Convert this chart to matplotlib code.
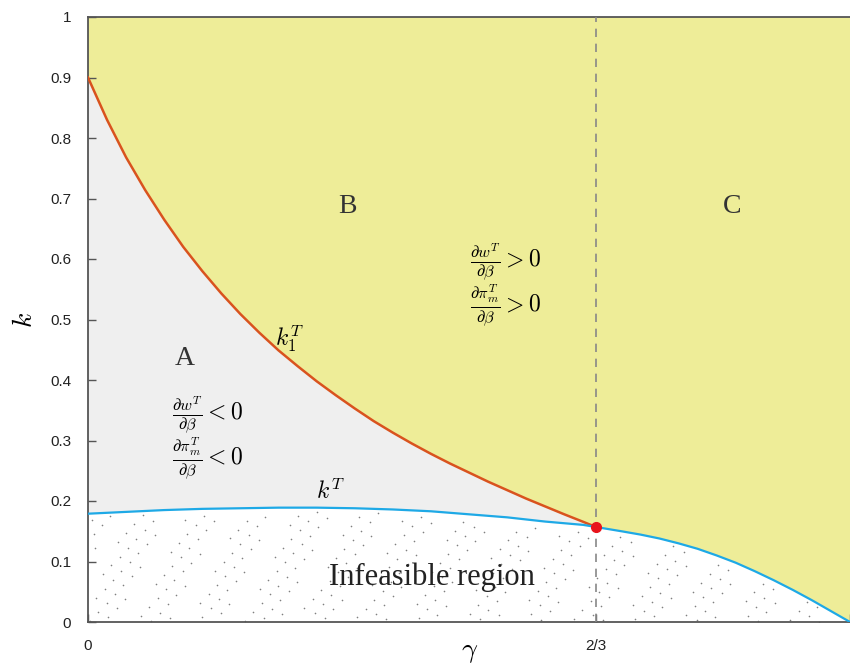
import numpy as np
import matplotlib.pyplot as plt

plt.rcParams['mathtext.fontset'] = 'cm'

# upper threshold k1^T, from gamma = 0 to 2/3
g_k1 = [0.0, 0.025, 0.05, 0.075, 0.10, 0.125, 0.15, 0.175, 0.20, 0.225,
        0.25, 0.275, 0.30, 0.325, 0.35, 0.375, 0.40, 0.425, 0.45, 0.475,
        0.50, 0.525, 0.55, 0.575, 0.60, 0.625, 0.65, 2/3]
k1 = [0.900, 0.830, 0.768, 0.714, 0.665, 0.620, 0.580, 0.543, 0.509, 0.478,
      0.449, 0.423, 0.398, 0.375, 0.353, 0.332, 0.313, 0.295, 0.278, 0.262,
      0.247, 0.232, 0.218, 0.204, 0.191, 0.178, 0.1655, 0.157]

# feasibility bound k^T, from gamma = 0 to 1
g_kt = [0.0, 0.05, 0.10, 0.15, 0.20, 0.25, 0.30, 0.35, 0.40, 0.45, 0.50,
        0.55, 0.60, 0.65, 2/3, 0.70, 0.725, 0.75, 0.775, 0.80, 0.825, 0.85,
        0.875, 0.90, 0.925, 0.95, 0.975, 1.0]
kt = [0.179, 0.182, 0.185, 0.187, 0.188, 0.189, 0.189, 0.188, 0.186, 0.183,
      0.178, 0.173, 0.166, 0.1605, 0.157, 0.150, 0.1445, 0.138, 0.130, 0.121,
      0.110, 0.098, 0.084, 0.069, 0.053, 0.036, 0.018, 0.0]

gamma_star = 2/3
k_star = 0.157

g_k1 = np.array(g_k1); k1 = np.array(k1)
g_kt = np.array(g_kt); kt = np.array(kt)
left = g_kt <= gamma_star + 1e-9
right = g_kt >= gamma_star - 1e-9

fig = plt.figure(figsize=(8.5, 6.7), dpi=100)
ax = fig.add_axes([88/850, 48/670, 762/850, 605/670])

yellow = '#eeed98'
grey = '#efefef'

# region B + C
ax.fill(np.concatenate([g_k1, g_kt[right], [1, 0]]),
        np.concatenate([k1, kt[right], [1, 1]]), color=yellow, lw=0)
# region A
ax.fill(np.concatenate([g_k1, g_kt[left][::-1]]),
        np.concatenate([k1, kt[left][::-1]]), color=grey, lw=0)

# stipple for the infeasible region (quasi-random R2 sequence)
n = np.arange(1, 420)
sx = (0.5 + n * 0.7548776662) % 1
sy = ((0.5 + n * 0.5698402910) % 1) * 0.19
keep = sy < np.interp(sx, g_kt, kt) - 0.006
ax.scatter(sx[keep], sy[keep], s=1.4, color='#808080', lw=0, zorder=2)

ax.plot(g_k1, k1, color='#d9531e', lw=1.8, zorder=3)
ax.plot(g_kt, kt, color='#1ea9e6', lw=1.6, zorder=3)
ax.axvline(gamma_star, color='#888888', lw=1.2, ls=(0, (5, 4)), zorder=3)
ax.plot([gamma_star], [k_star], 'o', color='#e8141c', ms=7, zorder=5)

ax.set_xlim(0, 1)
ax.set_ylim(0, 1)
yt = np.round(np.arange(0, 1.01, 0.1), 1)
ax.set_yticks(yt)
ax.set_yticklabels(['0', '0.1', '0.2', '0.3', '0.4', '0.5', '0.6', '0.7',
                    '0.8', '0.9', '1'])
ax.set_xticks([0, gamma_star, 1])
ax.set_xticklabels(['0', '2/3', ''])
ax.tick_params(direction='in', length=6, width=1, color='#555555',
               labelsize=11, pad=12, labelcolor='#222222')
for lab in ax.get_xticklabels() + ax.get_yticklabels():
    lab.set_family(['Liberation Sans', 'DejaVu Sans'])
for s in ['left', 'bottom', 'top']:
    ax.spines[s].set_color('#555555')
    ax.spines[s].set_linewidth(1.3)
ax.spines['right'].set_visible(False)

# axis titles
fig.text(470/850, 1 - 651/670, r'$\gamma$', fontsize=20, ha='center', va='center')
fig.text(24/850, 1 - 320/670, r'$k$', fontsize=20, rotation=90,
         ha='center', va='center')

serif = ['Liberation Serif', 'DejaVu Serif']
for gx, gy, s in [(0.127, 0.436, 'A'), (0.341, 0.686, 'B'), (0.845, 0.686, 'C')]:
    ax.text(gx, gy, s, fontsize=20, family=serif, color='#333333',
            ha='center', va='center')

ax.text(0.110, 0.342, r'$\frac{\partial w^T}{\partial \beta} < 0$', fontsize=17, va='center')
ax.text(0.110, 0.271, r'$\frac{\partial \pi_m^T}{\partial \beta} < 0$', fontsize=17, va='center')
ax.text(0.501, 0.595, r'$\frac{\partial w^T}{\partial \beta} > 0$', fontsize=17, va='center')
ax.text(0.501, 0.524, r'$\frac{\partial \pi_m^T}{\partial \beta} > 0$', fontsize=17, va='center')

ax.text(0.265, 0.469, r'$k_1^T$', fontsize=17, ha='center', va='center')
ax.text(0.318, 0.215, r'$k^T$', fontsize=17, ha='center', va='center')
ax.text(0.451, 0.074, 'Infeasible region', fontsize=22, family=serif,
        color='#222222', ha='center', va='center', zorder=4)

fig.savefig('out.png', dpi=100)
